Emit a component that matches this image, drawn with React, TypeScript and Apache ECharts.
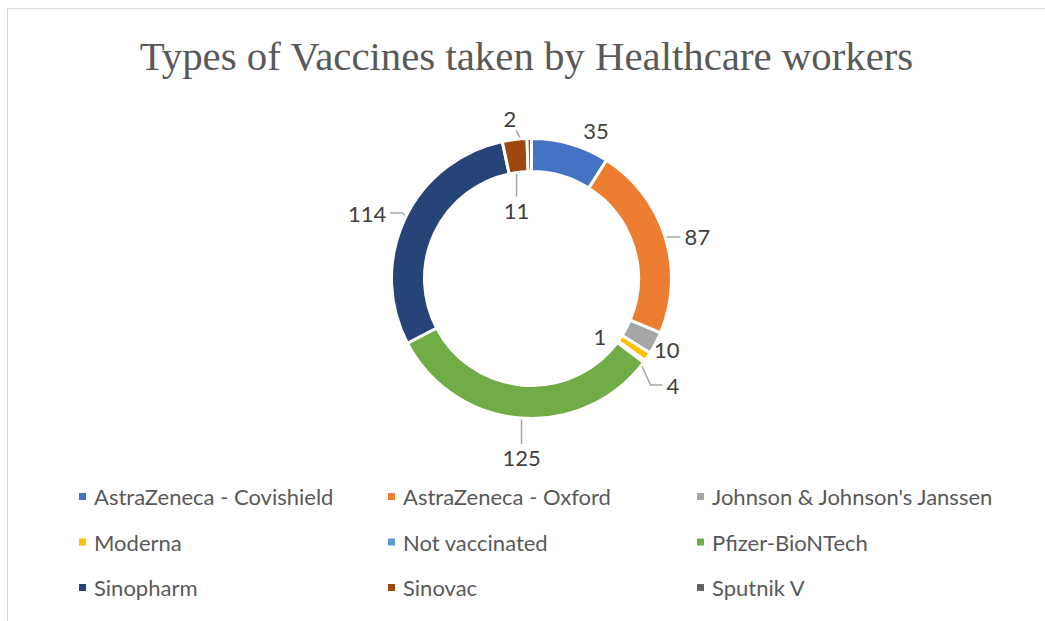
import React, { useEffect, useRef } from "react";
import * as echarts from "echarts";

const categories = [
  "AstraZeneca - Covishield",
  "AstraZeneca - Oxford",
  "Johnson & Johnson's Janssen",
  "Moderna",
  "Not vaccinated",
  "Pfizer-BioNTech",
  "Sinopharm",
  "Sinovac",
  "Sputnik V",
];
const values = [35, 87, 10, 4, 1, 125, 114, 11, 2];
const colors = [
  "#4472C4",
  "#ED7D31",
  "#A5A5A5",
  "#FFC000",
  "#5B9BD5",
  "#70AD47",
  "#264478",
  "#9E480E",
  "#636363",
];
const titleText = "Types of Vaccines taken by Healthcare workers";
const legendColumns = [
  [categories[0], categories[3], categories[6]],
  [categories[1], categories[4], categories[7]],
  [categories[2], categories[5], categories[8]],
];

// layout (not data): pie geometry and label placement (radius, angle shift, leader style)
const CX = 523.5;
const CY = 269.5;
const R_IN = 107;
const R_OUT = 140;
const labelPlacement = [
  { r: 161, dAng: 7.4, line: "none" },
  { r: 171, dAng: 3.3, line: "side" },
  { r: 153, dAng: 0.3, line: "none" },
  { r: 177, dAng: 3.0, line: "side" },
  { r: 90, dAng: 4.2, line: "none" },
  { r: 180, dAng: 0, line: "vertical" },
  { r: 177, dAng: -3.5, line: "side" },
  { r: 68.5, dAng: 0, line: "vertical" },
  { r: 161, dAng: -6.8, line: "direct" },
];

export default function App() {
  const ref = useRef<HTMLDivElement>(null);
  useEffect(() => {
    if (!ref.current) return;
    const chart = echarts.init(ref.current, undefined, { renderer: "svg" });
    const legendLefts = [69, 378, 687];
    const total = values.reduce((a, b) => a + b, 0);
    const mids: number[] = [];
    let acc = 0;
    values.forEach((v) => {
      mids.push(((acc + v / 2) / total) * 360);
      acc += v;
    });
    const polar = (r: number, deg: number) => {
      const a = (deg * Math.PI) / 180;
      return [CX + r * Math.sin(a), CY - r * Math.cos(a)];
    };
    const rMid = (R_IN + R_OUT) / 2;
    const labelFont = {
      fontFamily: "Lato, 'Open Sans', sans-serif",
      fontSize: 22,
      color: "#404040",
    };
    chart.setOption({
      animation: false,
      color: colors,
      title: {
        text: titleText,
        left: "center",
        top: 22,
        padding: [5, 0, 5, 18],
        textStyle: {
          fontFamily: "'Liberation Serif', 'DejaVu Serif', serif",
          fontSize: 40.8,
          fontWeight: "normal",
          color: "#595959",
        },
      },
      legend: legendColumns.map((col, i) => ({
        data: col,
        orient: "vertical",
        left: legendLefts[i],
        top: 476.5,
        padding: 0,
        itemWidth: 9,
        itemHeight: 9,
        itemGap: 23.5,
        icon: "rect",
        selectedMode: false,
        textStyle: {
          fontFamily: "Lato, 'Open Sans', sans-serif",
          fontSize: 22,
          color: "#595959",
          padding: [0, 0, 0, 2],
        },
      })),
      series: [
        {
          type: "pie",
          center: [CX, CY],
          radius: [R_IN, R_OUT],
          startAngle: 90,
          clockwise: true,
          avoidLabelOverlap: false,
          itemStyle: { borderColor: "#ffffff", borderWidth: 3 },
          label: {
            show: true,
            position: "outside",
            formatter: "{c}",
            ...labelFont,
          },
          labelLine: {
            show: true,
            length: 10,
            length2: 10,
            lineStyle: { color: "#A6A6A6", width: 1.5 },
          },
          labelLayout: (p: any) => {
            const i = p.dataIndex;
            const pl = labelPlacement[i];
            const mid = mids[i];
            const w = p.labelRect ? p.labelRect.width : 20;
            const h = p.labelRect ? p.labelRect.height : 22;
            const p0 = polar(rMid, mid);
            let [lx, ly] = polar(pl.r, mid + pl.dAng);
            let pts: number[][] | undefined;
            if (pl.line === "side") {
              const dir = lx > CX ? -1 : 1;
              const p2 = [lx + dir * (w / 2 + 4), ly];
              const p1 = [p2[0] + dir * 12, ly];
              pts = [p0, p1, p2];
            } else if (pl.line === "vertical") {
              lx = p0[0];
              const below = ly > p0[1];
              const p2 = [lx, ly + (below ? -1 : 1) * (h / 2 + 3)];
              pts = [p0, p2, p2];
            } else if (pl.line === "direct") {
              const dx = lx - p0[0];
              const dy = ly - p0[1];
              const d = Math.sqrt(dx * dx + dy * dy);
              const k = (d - 13) / d;
              const p2 = [p0[0] + dx * k, p0[1] + dy * k];
              pts = [p0, p2, p2];
            }
            const res: any = {
              x: lx,
              y: ly,
              align: "center",
              verticalAlign: "middle",
            };
            if (pts) res.labelLinePoints = pts;
            return res;
          },
          emphasis: { disabled: true },
          data: categories.map((name, i) => ({
            name,
            value: values[i],
            labelLine: { show: labelPlacement[i].line !== "none" },
          })),
        },
      ],
    });
    return () => chart.dispose();
  }, []);
  return (
    <div
      style={{
        position: "fixed",
        left: 7,
        top: 8,
        width: 1100,
        height: 700,
        borderLeft: "1px solid #d9d9d9",
        borderTop: "1px solid #d9d9d9",
        background: "#fff",
      }}
    >
      <div ref={ref} style={{ width: 1037, height: 612 }} />
    </div>
  );
}
